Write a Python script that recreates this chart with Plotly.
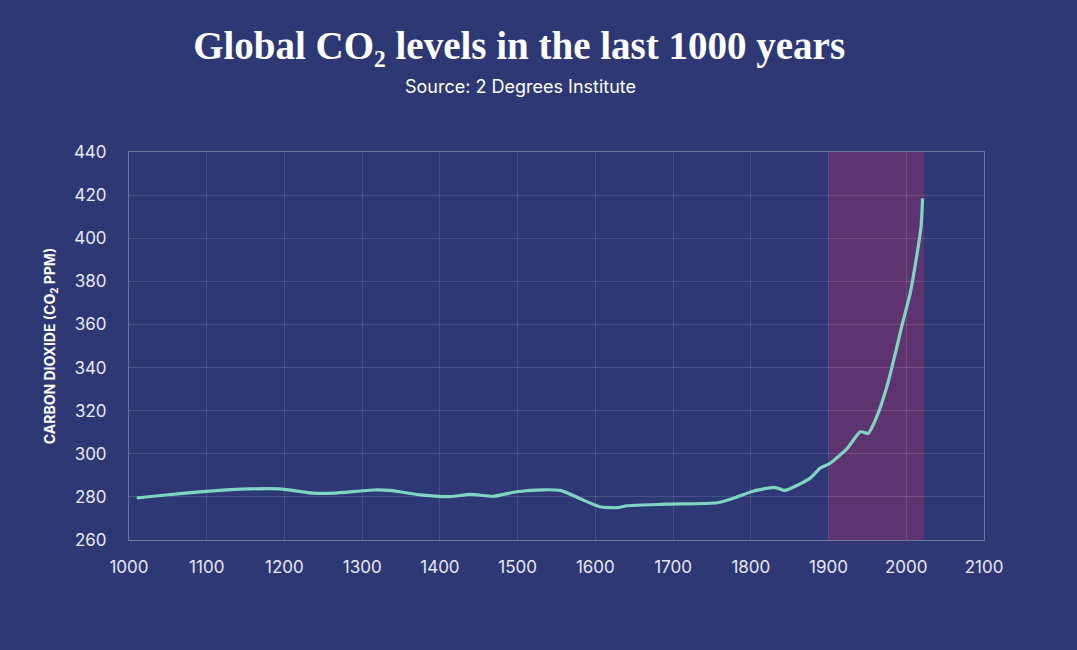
import plotly.graph_objects as go

years = [1010, 1050, 1100, 1156, 1194, 1237, 1263, 1314, 1336, 1375, 1413, 1439, 1469, 1499,
         1533, 1555, 1584, 1606, 1628, 1641, 1692, 1757, 1777, 1803, 1829, 1835, 1844, 1876,
         1889, 1902, 1924, 1941, 1951, 1962, 1975, 1988, 1994, 2005, 2014, 2019, 2021]
co2 = [279.5, 281.0, 282.6, 283.7, 283.7, 281.7, 281.7, 283.2, 283.0, 280.9, 280.1, 281.2, 280.3, 282.4,
       283.3, 283.0, 278.6, 275.4, 275.0, 275.9, 276.6, 277.3, 279.3, 282.6, 284.4, 284.0, 283.0, 288.6,
       293.3, 295.6, 302.5, 310.2, 309.5, 317.2, 331.1, 349.7, 358.9, 374.4, 393.0, 405.3, 418.5]

band_start, band_end = 1900, 2023
x_ticks = list(range(1000, 2101, 100))
y_ticks = list(range(260, 441, 20))

BG = "#2d3875"
fig = go.Figure()
fig.add_vrect(x0=band_start, x1=band_end, fillcolor="#5e3470", opacity=1, line_width=0, layer="below")
fig.add_trace(go.Scatter(x=years, y=co2, mode="lines",
                         line=dict(color="#7fd6c0", width=3.2, shape="spline", smoothing=0.6),
                         showlegend=False, hoverinfo="x+y"))

fig.update_layout(
    width=1077, height=650,
    paper_bgcolor=BG, plot_bgcolor=BG,
    margin=dict(l=129, r=93, t=152, b=110),
    title=dict(text="<b>Global CO₂ levels in the last 1000 years</b>",
               x=0.482, xanchor="center", y=0.93, yanchor="middle",
               font=dict(family="Liberation Serif, DejaVu Serif, serif", size=39, color="white")),
    annotations=[dict(text="Source: 2 Degrees Institute", xref="paper", yref="paper",
                      x=0.458, y=1.168, xanchor="center", yanchor="middle", showarrow=False,
                      font=dict(family="Inter, Roboto, sans-serif", size=18, color="white"))],
    font=dict(family="Inter, Roboto, sans-serif", color="#e6e8f2"),
)
fig.update_xaxes(range=[1000, 2100], tickvals=x_ticks, tickfont=dict(size=17, color="#e6e8f2"),
                 showgrid=True, gridcolor="rgba(255,255,255,0.12)", gridwidth=1,
                 showline=True, linecolor="rgba(255,255,255,0.3)", mirror=True,
                 zeroline=False, ticks="outside", ticklen=12, tickcolor="rgba(0,0,0,0)")
fig.update_yaxes(range=[260, 440], tickvals=y_ticks, tickfont=dict(size=17, color="#e6e8f2"),
                 showgrid=True, gridcolor="rgba(255,255,255,0.12)", gridwidth=1,
                 showline=True, linecolor="rgba(255,255,255,0.3)", mirror=True,
                 zeroline=False, ticks="outside", ticklen=18, tickcolor="rgba(0,0,0,0)",
                 title=dict(text="<b>CARBON DIOXIDE (CO<sub>2</sub> PPM)</b>", standoff=14,
                            font=dict(size=14, color="white")))

fig.write_html("out.html", config={"displayModeBar": False},
               post_script="document.body.style.margin='0';document.body.style.background='#2d3875';")
